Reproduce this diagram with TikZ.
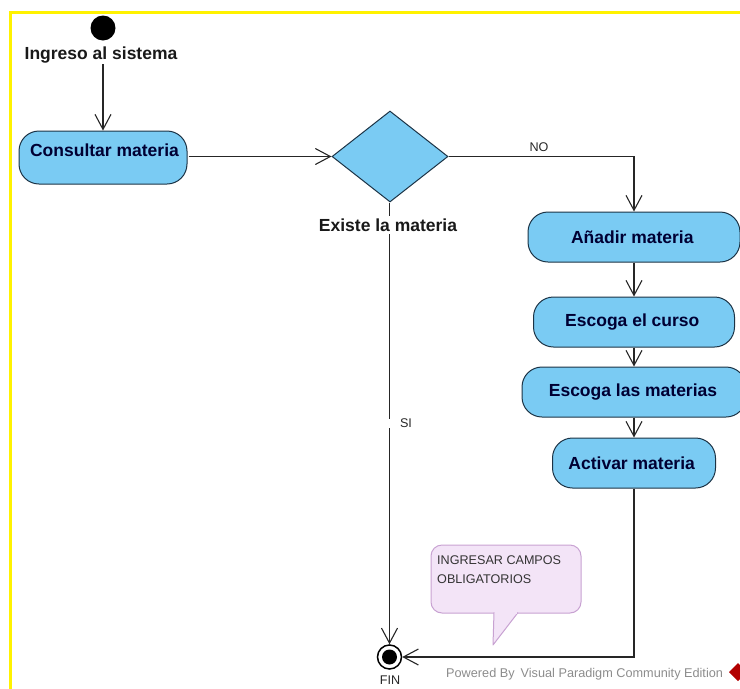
\documentclass[tikz,border=0pt]{standalone}
\usepackage{fontspec}
\setmainfont{Liberation Sans}
\usetikzlibrary{arrows.meta,shapes.geometric}
\definecolor{actblue}{HTML}{7ACBF3}
\definecolor{actline}{HTML}{1C3345}
\definecolor{noteback}{HTML}{F3E4F7}
\definecolor{noteline}{HTML}{C8A2D2}
\tikzset{
    act/.style={draw=actline, fill=actblue, line width=1pt, rounded corners=20pt, inner sep=0pt, font=\fontsize{17.5}{20}\selectfont\bfseries, text=black!80!blue},
    lbl/.style={inner sep=1pt, font=\fontsize{17.5}{20}\selectfont\bfseries, text=black!90},
    small/.style={inner sep=1pt, font=\fontsize{12.6}{14}\selectfont, text=black!85},
    flow/.style={-{Straight Barb[length=15pt,width=16pt]}, line width=1.1pt, color=black!85}
}
\begin{document}
\begin{tikzpicture}[x=1pt, y=-1pt]
    \useasboundingbox (0,0) rectangle (740,689);
    \draw[yellow, line width=3pt] (10,689) -- (10,12) -- (740,12);

    \node[circle, fill=black, minimum size=25pt, inner sep=0pt] (start) at (103,28) {};
    \node[lbl] (ingreso) at (101,55) {Ingreso al sistema};

    \node[act, minimum width=168pt, minimum height=53pt] (consultar) at (103,157.5) {};
    \node[lbl, text=black!80!blue] (consultarlbl) at (104.5,150) {Consultar materia};

    \node[diamond, aspect=1.27, draw=actline, fill=actblue, line width=1pt, inner sep=0pt, minimum width=116pt, minimum height=91pt] (decision) at (390,156.5) {};

    \node[act, minimum width=212pt, minimum height=50pt] (anadir) at (634,237) {\hspace{-3.4pt}Añadir materia};
    \node[act, minimum width=201pt, minimum height=50pt] (curso) at (634,322) {\hspace{-3.4pt}Escoga el curso};
    \node[act, minimum width=224pt, minimum height=50pt] (materias) at (634,392) {\hspace{-2pt}Escoga las materias};
    \node[act, minimum width=163pt, minimum height=50pt] (activar) at (634,463) {\hspace{-4.6pt}Activar materia};

    \node[circle, draw=black, fill=white, line width=1.5pt, minimum size=24pt, inner sep=0pt] (fin) at (389.5,657) {};
    \node[circle, fill=black, minimum size=15pt, inner sep=0pt] (fininner) at (389.5,657) {};
    \node[small] (finlbl) at (390,680) {FIN};

    \draw[flow] (ingreso.south -| consultar.north) -- (consultar.north);
    \draw[flow] (consultar.east |- decision.west) ++(1,0) -- (decision.west);
    \draw[flow] (decision.east) -| (anadir.north);
    \draw[flow] (decision.south -| fin.north) -- (fin.north);
    \node[lbl, fill=white, inner sep=3pt] (existe) at (388,225) {Existe la materia};
    \node[fill=white, inner sep=0pt, minimum width=5pt, minimum height=9pt] (sigap) at (389.5,423) {};
    \node[small] (si) at (406,423) {SI};
    \node[small] (no) at (539,147) {NO};

    \draw[flow] (anadir.south) -- (curso.north);
    \draw[flow] (curso.south) -- (materias.north);
    \draw[flow] (materias.south) -- (activar.north);
    \draw[flow] (activar.south) |- (fin.east);

    % note with pointer
    \draw[noteline, fill=noteback, line width=1pt, rounded corners=11pt] (431,613) rectangle (581,545);
    \draw[noteline, fill=noteback, line width=1pt, line join=round] (494,612.5) -- (493,645) -- (518,612.5);
    \fill[noteback] (495,611) rectangle (517,614);
    \node[small, anchor=west, text=black!80] (note1) at (436,560) {INGRESAR CAMPOS};
    \node[small, anchor=west, text=black!80] (note2) at (436,579) {OBLIGATORIOS};

    \node[inner sep=0pt, anchor=west, text=black!45, font=\fontsize{12.7}{14}\selectfont] (powered) at (446,674.5) {Powered By\hspace{6pt}Visual Paradigm Community Edition};
    \fill[red!70!black] (738,663) -- (747,672) -- (738,681) -- (729,672) -- cycle;
\end{tikzpicture}
\end{document}
